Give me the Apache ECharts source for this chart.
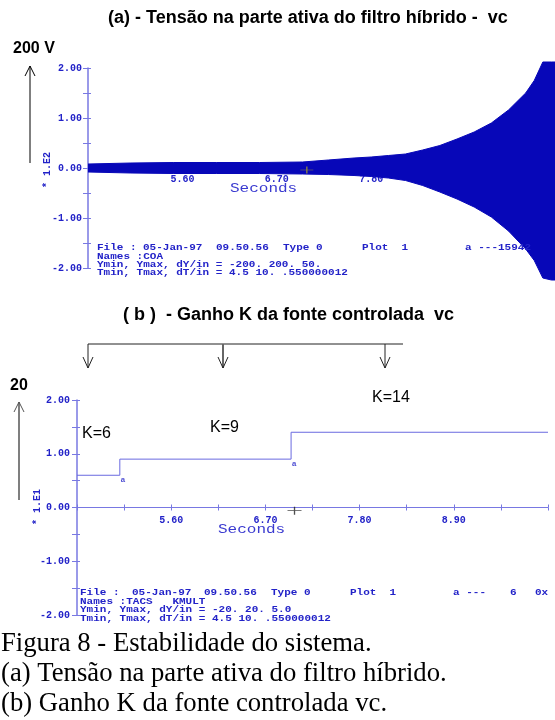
<!DOCTYPE html>
<html><head><meta charset="utf-8">
<script src="https://cdn.jsdelivr.net/npm/echarts@6/dist/echarts.min.js"></script>
<style>html,body{margin:0;padding:0;background:#fff}#c{width:555px;height:720px}</style>
</head><body><div id="c"></div>
<script>
// ---------- data ----------
const T0 = 4.5, T1 = 10.0, DT = 0.55;
// (a) envelope of the vc oscillation (units of 1.E2 V)
const vcTimes = [4.5, 5.0, 5.5, 6.0, 6.5, 7.0, 7.3, 7.6, 7.8, 8.0, 8.2, 8.4, 8.6, 8.8, 9.0, 9.2, 9.4, 9.6, 9.7, 9.8, 9.9, 10.0];
const vcUpper = [0.08, 0.10, 0.11, 0.11, 0.11, 0.12, 0.16, 0.20, 0.22, 0.25, 0.28, 0.36, 0.45, 0.58, 0.72, 0.90, 1.16, 1.50, 1.75, 2.12, 2.12, 2.12];
const vcLower = [-0.08, -0.10, -0.11, -0.11, -0.11, -0.12, -0.13, -0.15, -0.17, -0.20, -0.25, -0.35, -0.48, -0.62, -0.78, -0.98, -1.26, -1.62, -1.85, -2.20, -2.24, -2.24];
// (b) gain K (units of 1.E1)
const kTimes = [4.5, 5.0, 7.0, 10.0];
const kValues = [0.6, 0.9, 1.4, 1.4];
const kMarkTimes = [5.0, 7.0];
const kMarkValues = [0.6, 0.9];
// cursor crosses
const cursorA = [7.05, -0.04];
const cursorB = [7.04, -0.06];
// tick labels
const xTickLabels = ['5.60', '6.70', '7.80', '8.90'];
const yTickLabels = ['-2.00', '-1.00', '0.00', '1.00', '2.00'];

// ---------- styles ----------
const labelColor = '#2222c8';
const axisColor = '#7878e2';
const bandColor = '#0707b8';
const stepColor = '#6a6ae0';
const MONO = '"Liberation Mono", "DejaVu Sans Mono", monospace';
const SANS = '"Liberation Sans", Arial, sans-serif';
const SERIF = '"Liberation Serif", "Times New Roman", serif';

function xFmt(v) {
  const idx = Math.round(v / DT);
  if (idx % 2 === 0 && idx >= 2 && idx <= 8) return xTickLabels[idx / 2 - 1];
  return '';
}
function yFmt(v) {
  const r = Math.round(v * 2);
  if (r % 2 === 0) return yTickLabels[r / 2 + 2];
  return '';
}
function xAxisCfg(gridIndex, margin, offset, overlay) {
  return {
    type: 'value', gridIndex, min: 0, max: T1 - T0, interval: DT,
    position: 'bottom', offset,
    axisLine: { show: !overlay, onZero: false, lineStyle: { color: axisColor, width: 1 } },
    axisTick: { show: true, inside: !!overlay, length: 3, lineStyle: { color: axisColor } },
    splitLine: { show: false },
    axisLabel: { show: !overlay, formatter: xFmt, color: labelColor, fontFamily: MONO, fontWeight: 'bold', fontSize: 10, margin }
  };
}
function yAxisCfg(gridIndex, margin, overlay) {
  return {
    type: 'value', gridIndex, min: -2, max: 2, interval: 0.5,
    position: 'left', offset: 0,
    axisLine: { show: !overlay, onZero: false, lineStyle: { color: axisColor, width: 1.5 } },
    axisTick: { show: true, inside: !!overlay, length: overlay ? 3 : 5, lineStyle: { color: axisColor } },
    splitLine: { show: false },
    axisLabel: { show: !overlay, formatter: yFmt, color: labelColor, fontFamily: MONO, fontWeight: 'bold', fontSize: 10, margin }
  };
}
const plusPath = 'path://M0,5L10,5M5,0L5,10';

// ---------- graphics (annotations) ----------
const g = [];
function txt(x, y, text, font, fill, opts) {
  g.push(Object.assign({ type: 'text', x, y, z: 100, silent: true,
    style: { text, font, fill, align: 'left', verticalAlign: 'middle' } }, opts || {}));
}
function line(x1, y1, x2, y2, stroke, w) {
  g.push({ type: 'line', z: 100, silent: true, shape: { x1, y1, x2, y2 }, style: { stroke, lineWidth: w || 1 } });
}
function poly(points, stroke, w) {
  g.push({ type: 'polyline', z: 100, silent: true, shape: { points }, style: { stroke, fill: null, lineWidth: w || 1 } });
}
// titles
txt(108, 18, '(a) - Tensão na parte ativa do filtro híbrido -  vc', 'bold 18px ' + SANS, '#000');
txt(123, 315, '( b )  - Ganho K da fonte controlada  vc', 'bold 18px ' + SANS, '#000');
// scale arrows
txt(13, 49, '200 V', 'bold 16px ' + SANS, '#000');
line(30, 66, 30, 163, '#000', 1);
poly([[25, 76], [30, 66], [35, 76]], '#000', 1);
txt(10, 386, '20', 'bold 16px ' + SANS, '#000');
line(19, 402, 19, 500, '#555', 1.5);
poly([[14, 412], [19, 402], [24, 412]], '#555', 1);
// bracket with arrows for (b)
line(88, 344, 403, 344, '#222', 1);
[[88, '#222', 1], [223, '#666', 2], [385, '#222', 1]].forEach(([x, c, w]) => {
  line(x, 344, x, 368, c, w);
  poly([[x - 5, 357], [x, 368], [x + 5, 357]], '#222', 1);
});
// K labels
txt(82, 434, 'K=6', '16px ' + SANS, '#000');
txt(210, 428, 'K=9', '16px ' + SANS, '#000');
txt(372, 398, 'K=14', '16px ' + SANS, '#000');
// y multiplier labels
g.push({ type: 'text', x: 47, y: 170, rotation: Math.PI / 2, z: 100, silent: true,
  style: { text: '* 1.E2', font: 'bold 10px ' + MONO, fill: labelColor, align: 'center', verticalAlign: 'middle' } });
g.push({ type: 'text', x: 37, y: 507, rotation: Math.PI / 2, z: 100, silent: true,
  style: { text: '* 1.E1', font: 'bold 10px ' + MONO, fill: labelColor, align: 'center', verticalAlign: 'middle' } });
// Seconds
txt(230, 188, 'Seconds', '16px ' + MONO, '#3a3ad0', { scaleY: 0.85 });
txt(218, 529, 'Seconds', '16px ' + MONO, '#3a3ad0', { scaleY: 0.85 });
// info blocks
const INFO = 'bold 11px ' + MONO;
const SQ = { scaleY: 0.78 };
[['File :', 97], ['05-Jan-97', 143], ['09.50.56', 216], ['Type 0', 283], ['Plot  1', 362], ['a ---15942', 465]]
  .forEach(([t, x]) => txt(x, 248, t, INFO, labelColor, SQ));
txt(97, 257, 'Names :COA', INFO, labelColor, SQ);
txt(97, 265, 'Ymin, Ymax, dY/in = -200. 200. 50.', INFO, labelColor, SQ);
txt(97, 273, 'Tmin, Tmax, dT/in = 4.5 10. .550000012', INFO, labelColor, SQ);
[['File :', 80], ['05-Jan-97', 132], ['09.50.56', 204], ['Type 0', 271], ['Plot  1', 350], ['a ---', 453], ['6', 510], ['0x', 535]]
  .forEach(([t, x]) => txt(x, 593, t, INFO, labelColor, SQ));
txt(80, 602, 'Names :TACS   KMULT', INFO, labelColor, SQ);
txt(80, 610, 'Ymin, Ymax, dY/in = -20. 20. 5.0', INFO, labelColor, SQ);
txt(80, 619, 'Tmin, Tmax, dT/in = 4.5 10. .550000012', INFO, labelColor, SQ);
// captions
const CAP = '26.7px ' + SERIF;
txt(1, 644, 'Figura 8 - Estabilidade do sistema.', CAP, '#000');
txt(1, 674, '(a) Tensão na parte ativa do filtro híbrido.', CAP, '#000');
txt(1, 704, '(b) Ganho K da fonte controlada vc.', CAP, '#000');

// ---------- chart ----------
const chart = echarts.init(document.getElementById('c'), null, { renderer: 'canvas' });
chart.setOption({
  animation: false,
  backgroundColor: '#fff',
  grid: [
    { left: 88, top: 68, width: 472, height: 200, containLabel: false, outerBoundsMode: 'none' },
    { left: 77, top: 400, width: 471, height: 215, containLabel: false, outerBoundsMode: 'none' }
  ],
  xAxis: [xAxisCfg(0, 6, -100), xAxisCfg(1, 8, -107.5), xAxisCfg(0, 6, -100, true), xAxisCfg(1, 8, -107.5, true)],
  yAxis: [yAxisCfg(0, 6), yAxisCfg(1, 7), yAxisCfg(0, 6, true), yAxisCfg(1, 7, true)],
  series: [
    { type: 'line', xAxisIndex: 0, yAxisIndex: 0, clip: false, symbol: 'none', z: 3,
      data: vcTimes.map((t, i) => [t - T0, vcUpper[i]]),
      lineStyle: { color: bandColor, width: 1 }, areaStyle: { color: bandColor, opacity: 1 } },
    { type: 'line', xAxisIndex: 0, yAxisIndex: 0, clip: false, symbol: 'none', z: 3,
      data: vcTimes.map((t, i) => [t - T0, vcLower[i]]),
      lineStyle: { color: bandColor, width: 1 }, areaStyle: { color: bandColor, opacity: 1 } },
    { type: 'scatter', xAxisIndex: 0, yAxisIndex: 0, z: 5, symbol: plusPath, symbolSize: [13, 7],
      data: [[cursorA[0] - T0, cursorA[1]]],
      itemStyle: { color: 'none', borderColor: '#aa9f2a', borderWidth: 1 } },
    { type: 'line', xAxisIndex: 1, yAxisIndex: 1, step: 'end', symbol: 'none', z: 3,
      data: kTimes.map((t, i) => [t - T0, kValues[i]]),
      lineStyle: { color: stepColor, width: 1 } },
    { type: 'scatter', xAxisIndex: 1, yAxisIndex: 1, z: 4, symbolSize: 1,
      data: kMarkTimes.map((t, i) => [t - T0, kMarkValues[i]]),
      itemStyle: { color: 'rgba(0,0,0,0)' },
      label: { show: true, formatter: 'a', position: 'bottom', distance: 0, offset: [3, 0],
        color: labelColor, fontFamily: MONO, fontWeight: 'bold', fontSize: 8 } },
    { type: 'scatter', xAxisIndex: 1, yAxisIndex: 1, z: 5, symbol: plusPath, symbolSize: [14, 8],
      data: [[cursorB[0] - T0, cursorB[1]]],
      itemStyle: { color: 'none', borderColor: '#222', borderWidth: 1 } }
  ],
  graphic: { elements: g }
});
</script>
</body></html>
